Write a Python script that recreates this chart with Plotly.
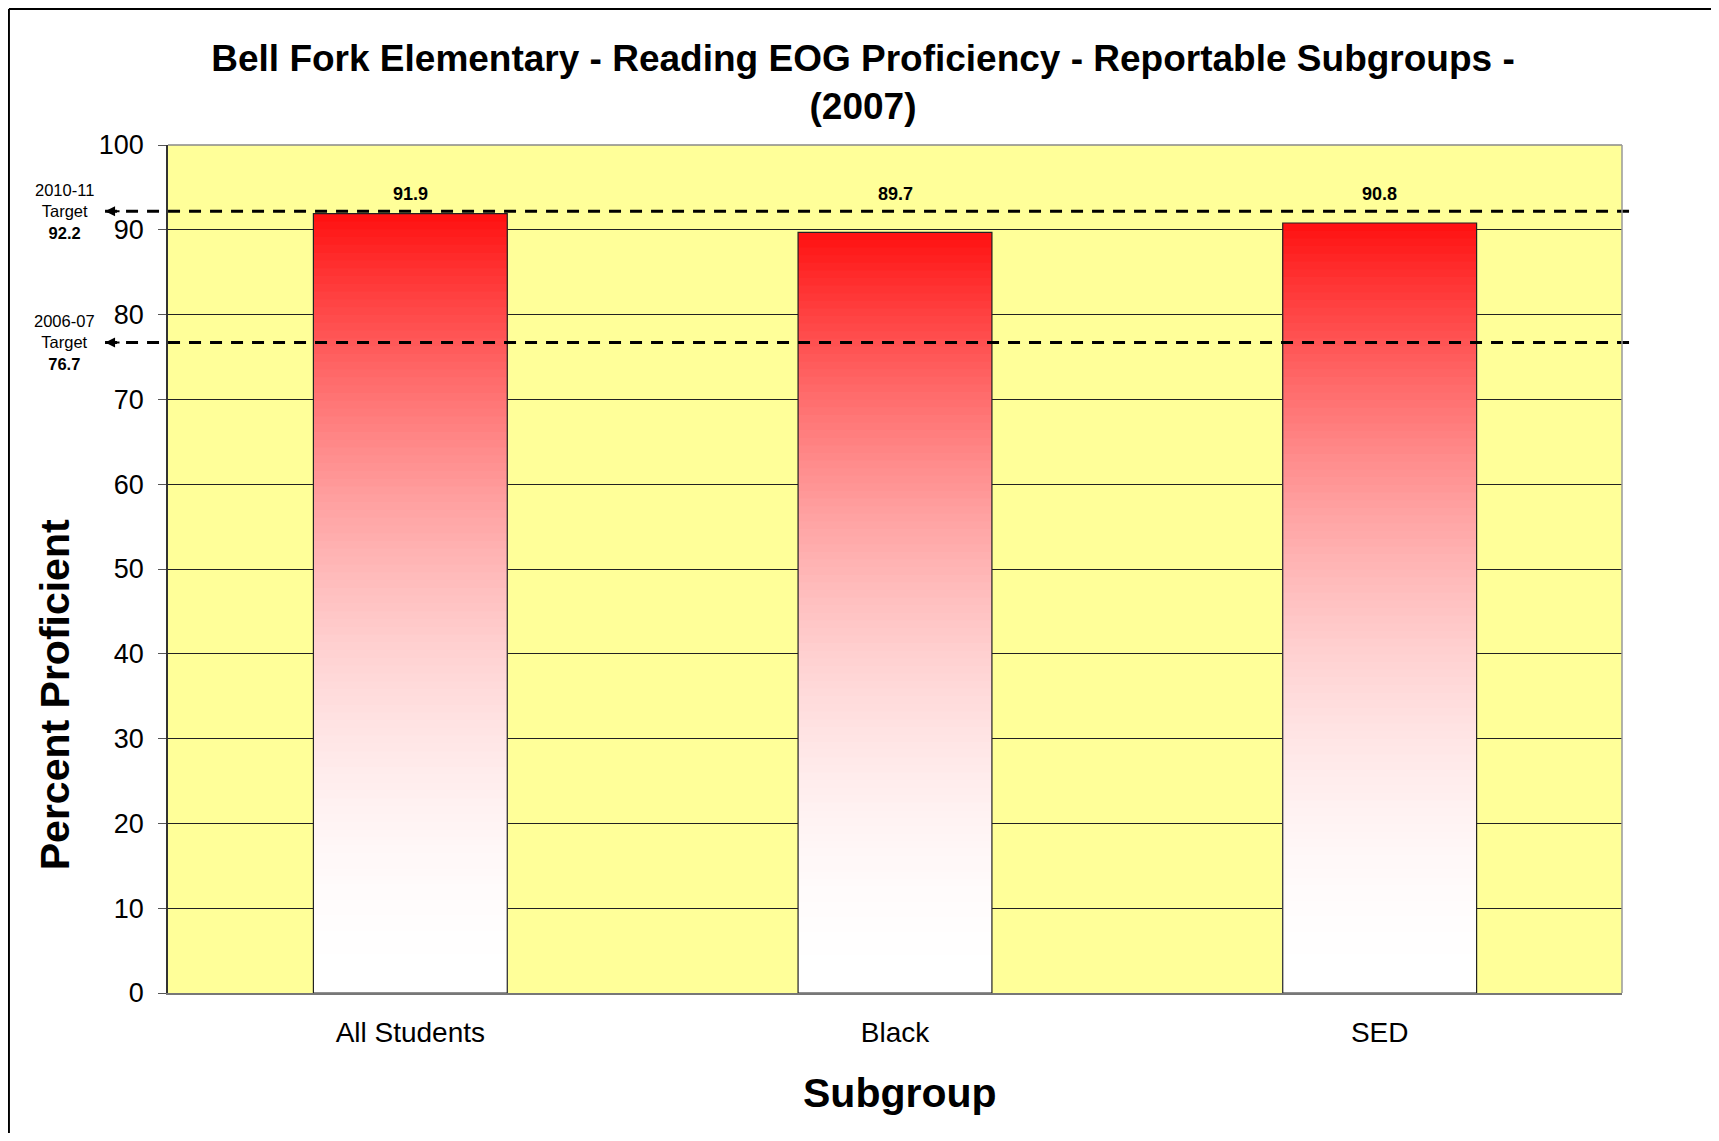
import plotly.graph_objects as go

# Data
subgroups = ["All Students", "Black", "SED"]
proficiency = [91.9, 89.7, 90.8]
target_years = ["2010-11", "2006-07"]
target_values = [92.2, 76.7]

FONT = "Liberation Sans, Arial, sans-serif"
BAR_WIDTH = 0.4
N_STEPS = 100  # slices used to fake the red -> white gradient

# page body adds an 8px margin, so keep the figure 16px smaller than the window
FIG_W, FIG_H = 1703, 1125

fig = go.Figure()

# gradient bars: overlaid bars of decreasing height, each a bit paler
for k in range(N_STEPS):
    t = (k + 0.5) / N_STEPS  # 0 = bar top, 1 = bar bottom
    g = round(16 + (255 - 16) * (1 - (1 - t) ** 2))
    frac = 1 - k / N_STEPS
    fig.add_trace(go.Bar(
        x=subgroups,
        y=[v * frac for v in proficiency],
        width=BAR_WIDTH,
        marker=dict(color=f"rgb(255,{g},{g})", line=dict(width=0)),
        hoverinfo="skip",
        showlegend=False,
    ))

# outline of each bar
fig.add_trace(go.Bar(
    x=subgroups,
    y=proficiency,
    width=BAR_WIDTH,
    marker=dict(color="rgba(0,0,0,0)", line=dict(color="#222222", width=1.2)),
    showlegend=False,
))

# value labels, all at one height above the tallest bar
label_y = max(proficiency) + 2.3
annotations = []
for name, v in zip(subgroups, proficiency):
    annotations.append(dict(
        x=name, y=label_y, xref="x", yref="y",
        text=f"<b>{v}</b>", showarrow=False,
        font=dict(family=FONT, size=18, color="black"),
        xanchor="center", yanchor="middle",
    ))

# target lines with arrow + label on the left
shapes = []
for year, tv in zip(target_years, target_values):
    shapes.append(dict(
        type="line", xref="paper", yref="y",
        x0=-0.0433, x1=1.0105, y0=tv, y1=tv,
        line=dict(color="black", width=3, dash="12px,9px"),
        layer="above",
    ))
    annotations.append(dict(
        x=-0.0433, y=tv, xref="paper", yref="y",
        text="", showarrow=True, ax=16, ay=0,
        arrowhead=2, arrowsize=1, arrowwidth=2, arrowcolor="black",
    ))
    annotations.append(dict(
        x=-0.0709, y=tv, xref="paper", yref="y",
        text=f"{year}<br>Target<br><b>{tv}</b>", showarrow=False,
        font=dict(family=FONT, size=16.5, color="black"),
        xanchor="center", yanchor="middle", align="center",
    ))

# axis titles
annotations.append(dict(
    x=-0.0776, y=0.3513, xref="paper", yref="paper",
    text="<b>Percent Proficient</b>", textangle=-90, showarrow=False,
    font=dict(family=FONT, size=41, color="black"),
    xanchor="center", yanchor="middle",
))
annotations.append(dict(
    x=0.5035, y=-0.118, xref="paper", yref="paper",
    text="<b>Subgroup</b>", showarrow=False,
    font=dict(family=FONT, size=41, color="black"),
    xanchor="center", yanchor="middle",
))

# plot frame (top/right) and outer border (top and left edges of the chart box)
shapes += [
    dict(type="line", xref="paper", yref="paper", x0=0, x1=1, y0=1, y1=1,
         line=dict(color="#888888", width=1.5), layer="above"),
    dict(type="line", xref="paper", yref="paper", x0=1, x1=1, y0=0, y1=1,
         line=dict(color="#999999", width=1.5), layer="above"),
    dict(type="line", xref="paper", yref="paper", x0=-0.1094, x1=-0.1094, y0=-0.2, y1=1.1604,
         line=dict(color="black", width=2)),
    dict(type="line", xref="paper", yref="paper", x0=-0.1094, x1=1.1, y0=1.1604, y1=1.1604,
         line=dict(color="black", width=2)),
]

fig.update_layout(
    width=FIG_W,
    height=FIG_H,
    margin=dict(l=160, r=89, t=137, b=140),
    barmode="overlay",
    paper_bgcolor="white",
    plot_bgcolor="#FFFF99",
    font=dict(family=FONT, color="black"),
    title=dict(
        text="<b>Bell Fork Elementary - Reading EOG Proficiency - Reportable Subgroups -<br>(2007)</b>",
        x=855 / FIG_W, xanchor="center", xref="container",
        y=1 - 63 / FIG_H, yanchor="middle", yref="container",
        font=dict(family=FONT, size=37, color="black"),
    ),
    xaxis=dict(
        showgrid=False,
        showline=True, linecolor="#777777", linewidth=1.5,
        ticks="", ticklabelstandoff=14,
        tickfont=dict(family=FONT, size=28, color="black"),
    ),
    yaxis=dict(
        range=[0, 100], dtick=10,
        showgrid=True, gridcolor="#222222", gridwidth=1,
        zeroline=False,
        showline=True, linecolor="#333333", linewidth=1.5,
        ticks="outside", ticklen=8, tickcolor="#555555",
        ticklabelstandoff=9,
        tickfont=dict(family=FONT, size=27, color="black"),
    ),
    shapes=shapes,
    annotations=annotations,
)

fig.write_html("out.html")
